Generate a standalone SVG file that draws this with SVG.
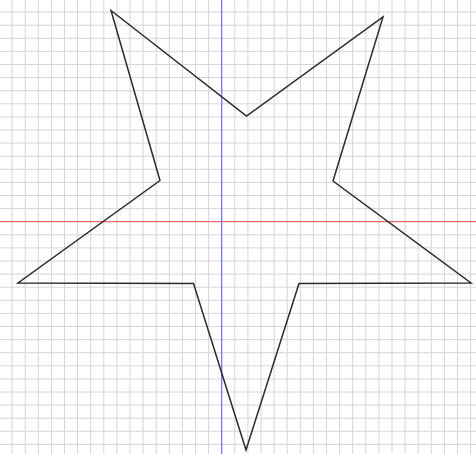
<svg xmlns="http://www.w3.org/2000/svg" width="476" height="454" viewBox="0 0 476 454">
<style>
.grid{stroke:#d6d6d6;stroke-width:1;fill:none}
.axis-x{stroke:#e86a6a;stroke-width:1.2}
.axis-y{stroke:#6a6aff;stroke-width:1.2}
.star{fill:none;stroke:#2b2b2b;stroke-width:1.5;stroke-linejoin:miter}
</style>
<rect width="476" height="454" fill="#ffffff"/>
<g id="grid">
<path class="grid" d="M12.1 0V454M25.2 0V454M38.3 0V454M51.4 0V454M64.5 0V454M77.6 0V454M90.7 0V454M103.8 0V454M116.9 0V454M130 0V454M143.1 0V454M156.2 0V454M169.3 0V454M182.4 0V454M195.5 0V454M208.6 0V454M234.8 0V454M247.9 0V454M261 0V454M274.1 0V454M287.2 0V454M300.3 0V454M313.4 0V454M326.5 0V454M339.6 0V454M352.7 0V454M365.8 0V454M378.9 0V454M392 0V454M405.1 0V454M418.2 0V454M431.3 0V454M444.4 0V454M457.5 0V454M470.6 0V454M0 12.1H476M0 25.2H476M0 38.3H476M0 51.4H476M0 64.5H476M0 77.6H476M0 90.7H476M0 103.8H476M0 116.9H476M0 130H476M0 143.1H476M0 156.2H476M0 169.3H476M0 182.4H476M0 195.5H476M0 208.6H476M0 234.8H476M0 247.9H476M0 261H476M0 274.1H476M0 287.2H476M0 300.3H476M0 313.4H476M0 326.5H476M0 339.6H476M0 352.7H476M0 365.8H476M0 378.9H476M0 392H476M0 405.1H476M0 418.2H476M0 431.3H476M0 444.4H476"/>
</g>
<g id="axes">
<line class="axis-x" x1="0" y1="221.7" x2="476" y2="221.7"/>
<line class="axis-y" x1="221.7" y1="0" x2="221.7" y2="454"/>
</g>
<g id="star">
<polygon class="star" points="111,10.5 246.5,116 383,17 333,181 471,283 299,283.5 246,450 193.5,283.5 18,283 160,180.5"/>
</g>
</svg>
